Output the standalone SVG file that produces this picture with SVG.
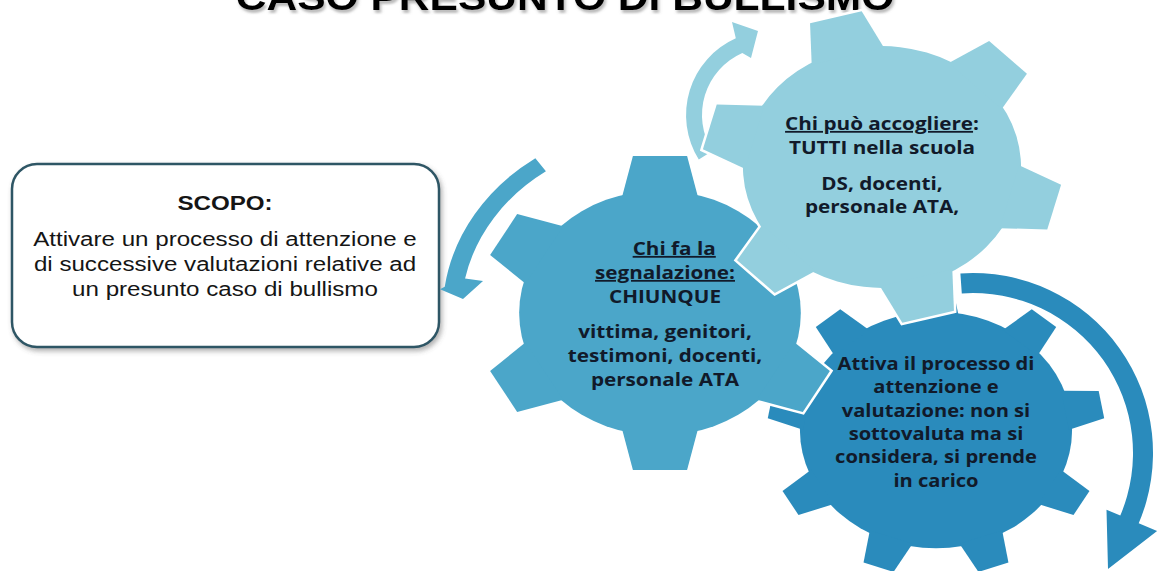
<svg xmlns="http://www.w3.org/2000/svg" width="1159" height="571" viewBox="0 0 1159 571">
<defs>
<style>
.title{font-family:"Liberation Sans",Arial,sans-serif;font-weight:bold;font-size:37px;text-anchor:middle}
.bx{font-family:"Liberation Sans",Arial,sans-serif;font-size:21px;fill:#151515;text-anchor:middle}
.gt{font-family:"Open Sans","Noto Sans",sans-serif;font-weight:bold;font-size:18px;fill:#111a2a;text-anchor:middle}
.g3t{font-size:17.5px}
.u{text-decoration:underline}
.c1{fill:#4ba6c9}.c2{fill:#93cfde}.c3{fill:#2a8bbc}
.ol{fill:#fff;stroke:#fff;stroke-width:5}
</style>
<filter id="sh" x="-10%" y="-10%" width="125%" height="130%"><feDropShadow dx="2" dy="3" stdDeviation="2.5" flood-color="#555" flood-opacity="0.45"/></filter>
<filter id="tsh" x="-5%" y="-50%" width="110%" height="200%"><feDropShadow dx="1.5" dy="3" stdDeviation="1.2" flood-color="#777" flood-opacity="0.5"/></filter>
<g id="gear6">
<circle r="78" vector-effect="non-scaling-stroke"/>
<polygon points="-15,-100 15,-100 21,-74 -21,-74" vector-effect="non-scaling-stroke"/>
<polygon points="-15,-100 15,-100 21,-74 -21,-74" transform="rotate(60)" vector-effect="non-scaling-stroke"/>
<polygon points="-15,-100 15,-100 21,-74 -21,-74" transform="rotate(120)" vector-effect="non-scaling-stroke"/>
<polygon points="-15,-100 15,-100 21,-74 -21,-74" transform="rotate(180)" vector-effect="non-scaling-stroke"/>
<polygon points="-15,-100 15,-100 21,-74 -21,-74" transform="rotate(240)" vector-effect="non-scaling-stroke"/>
<polygon points="-15,-100 15,-100 21,-74 -21,-74" transform="rotate(300)" vector-effect="non-scaling-stroke"/>
</g>
<g id="gear9">
<circle r="81" vector-effect="non-scaling-stroke"/>
<polygon points="-9.5,-100 9.5,-100 13.5,-78 -13.5,-78" vector-effect="non-scaling-stroke"/>
<polygon points="-9.5,-100 9.5,-100 13.5,-78 -13.5,-78" transform="rotate(40)" vector-effect="non-scaling-stroke"/>
<polygon points="-9.5,-100 9.5,-100 13.5,-78 -13.5,-78" transform="rotate(80)" vector-effect="non-scaling-stroke"/>
<polygon points="-9.5,-100 9.5,-100 13.5,-78 -13.5,-78" transform="rotate(120)" vector-effect="non-scaling-stroke"/>
<polygon points="-9.5,-100 9.5,-100 13.5,-78 -13.5,-78" transform="rotate(160)" vector-effect="non-scaling-stroke"/>
<polygon points="-9.5,-100 9.5,-100 13.5,-78 -13.5,-78" transform="rotate(200)" vector-effect="non-scaling-stroke"/>
<polygon points="-9.5,-100 9.5,-100 13.5,-78 -13.5,-78" transform="rotate(240)" vector-effect="non-scaling-stroke"/>
<polygon points="-9.5,-100 9.5,-100 13.5,-78 -13.5,-78" transform="rotate(280)" vector-effect="non-scaling-stroke"/>
<polygon points="-9.5,-100 9.5,-100 13.5,-78 -13.5,-78" transform="rotate(320)" vector-effect="non-scaling-stroke"/>
</g>
</defs>
<rect width="1159" height="571" fill="#fff"/>

<g id="title">
<g transform="translate(565,0) scale(1.15,1)">
<text class="title" x="0" y="10" fill="#000" filter="url(#tsh)">CASO PRESUNTO DI BULLISMO</text>
</g>
</g>

<g id="scopo">
<rect x="12" y="164" width="427" height="183" rx="25" ry="25" fill="#fff" stroke="#2f5665" stroke-width="2.5" filter="url(#sh)"/>
<g transform="translate(225,0) scale(1.15,1)">
<text class="bx" x="0" y="210" font-weight="bold">SCOPO:</text>
<text class="bx" x="0" y="246">Attivare un processo di attenzione e</text>
<text class="bx" x="0" y="271">di successive valutazioni relative ad</text>
<text class="bx" x="0" y="296">un presunto caso di bullismo</text>
</g>
</g>

<g id="connectors">
<path class="c1" transform="translate(660,313) scale(1.15,1)" d="M -108.4,-154.8 A 189 189 0 0 0 -187.2,-26.3 L -191.3,-23.7 L -171.3,-14 L -153.9,-32 L -169.5,-34.5 A 173 173 0 0 1 -99.2,-141.7 Z"/>
<path class="c2" d="M 698.8,159.5 A 84 84 0 0 1 735.8,38.3 L 732,22 L 758,31 L 751,58 L 742.3,52.9 A 68 68 0 0 0 712.3,151 Z"/>
<path class="c3" d="M 960.4,273.4 A 180 180 0 0 1 1138.7,523.3 L 1157.1,531.1 L 1108,569 L 1106.5,509.7 L 1120.3,515.5 A 160 160 0 0 0 961.8,293.4 Z"/>
</g>

<g id="gear3">
<use href="#gear9" class="ol" transform="translate(936,430) scale(1.68,1.46)"/>
<use href="#gear9" class="c3" transform="translate(936,430) scale(1.68,1.46)"/>
<g transform="translate(936,0) scale(1.15,1)">
<text class="gt g3t" x="0" y="370">Attiva il processo di</text>
<text class="gt g3t" x="0" y="393">attenzione e</text>
<text class="gt g3t" x="0" y="417">valutazione: non si</text>
<text class="gt g3t" x="0" y="440">sottovaluta ma si</text>
<text class="gt g3t" x="0" y="463">considera, si prende</text>
<text class="gt g3t" x="0" y="487">in carico</text>
</g>
</g>

<g id="gear1">
<use href="#gear6" class="ol" transform="translate(660,313) scale(1.8055,1.57)"/>
<use href="#gear6" class="c1" transform="translate(660,313) scale(1.8055,1.57)"/>
<g transform="translate(665,0) scale(1.15,1)">
<text class="gt" x="8" y="255"><tspan class="u">Chi fa la</tspan></text>
<text class="gt" x="0" y="279"><tspan class="u">segnalazione:</tspan></text>
<text class="gt" x="0" y="303">CHIUNQUE</text>
<text class="gt" x="0" y="338">vittima, genitori,</text>
<text class="gt" x="0" y="362">testimoni, docenti,</text>
<text class="gt" x="0" y="386">personale ATA</text>
</g>
</g>

<g id="gear2">
<use href="#gear6" class="ol" transform="translate(882,167) scale(1.7825,1.55) rotate(-15)"/>
<use href="#gear6" class="c2" transform="translate(882,167) scale(1.7825,1.55) rotate(-15)"/>
<g transform="translate(882,0) scale(1.15,1)">
<text class="gt" x="0" y="130"><tspan class="u">Chi può accogliere</tspan>:</text>
<text class="gt" x="0" y="154">TUTTI nella scuola</text>
<text class="gt" x="0" y="190">DS, docenti,</text>
<text class="gt" x="0" y="213">personale ATA,</text>
</g>
</g>
</svg>
